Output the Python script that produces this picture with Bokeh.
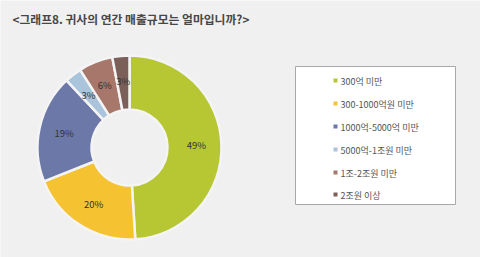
import math
from bokeh.plotting import figure
from bokeh.models import Range1d, ColumnDataSource
from bokeh.core.properties import value
from bokeh.embed import file_html
from bokeh.resources import INLINE

title = "<그래프8. 귀사의 연간 매출규모는 얼마입니까?>"
categories = ["300억 미만", "300-1000억원 미만", "1000억-5000억 미만",
              "5000억-1조원 미만", "1조-2조원 미만", "2조원 이상"]
shares = [49, 20, 19, 3, 6, 3]
colors = ["#B6C733", "#F5C232", "#6C79A8", "#A9C4DB", "#A6776A", "#7B605A"]

W, H = 480, 257
def Y(ys):
    return H - ys

p = figure(width=W, height=H, x_range=Range1d(0, W), y_range=Range1d(0, H),
           output_backend="svg", toolbar_location=None,
           x_axis_location=None, y_axis_location=None, min_border=0)
p.grid.visible = False
p.outline_line_color = None
p.background_fill_color = "#F0F0F0"
p.border_fill_color = "#F0F0F0"

# title
p.text(x=[12], y=[Y(18)], text=[title], text_font=value("Noto Sans CJK KR"),
       text_font_size="11.8px", text_font_style="bold", text_color="#474747",
       text_baseline="middle", text_align="left")

# donut
cx, cy = 129, Y(147)
r_in, r_out = 38, 92
total = sum(shares)
starts, ends, lx, ly, labels = [], [], [], [], []
cum = 0
for s in shares:
    a0 = math.pi / 2 - 2 * math.pi * cum / total
    cum += s
    a1 = math.pi / 2 - 2 * math.pi * cum / total
    starts.append(a0)
    ends.append(a1)
    mid = (a0 + a1) / 2
    rr = (r_in + r_out) / 2 + 2
    lx.append(cx + rr * math.cos(mid))
    ly.append(cy + rr * math.sin(mid))
    labels.append(f"{s}%")

src = ColumnDataSource(dict(start=starts, end=ends, color=colors))
p.annular_wedge(x=cx, y=cy, inner_radius=r_in, outer_radius=r_out,
                start_angle="start", end_angle="end", direction="clock",
                fill_color="color", line_color="#F4F4F4", line_width=2.5,
                source=src)
p.text(x=lx, y=ly, text=labels, text_font=value("Noto Sans CJK KR"),
       text_font_size="9.5px", text_color="#333333", text_align="center",
       text_baseline="middle")

# legend box
bx0, bx1, by0, by1 = 295, 455, 66, 204
p.quad(left=[bx0], right=[bx1], top=[Y(by0)], bottom=[Y(by1)],
       fill_color="white", line_color="#A8A8A8", line_width=1)
rows = [80, 103, 126, 149, 172, 194]
p.scatter(x=[335] * len(categories), y=[Y(r) for r in rows], marker="square",
          size=4, fill_color=colors, line_color=None)
p.text(x=[340] * len(categories), y=[Y(r + 1) for r in rows], text=categories,
       text_font=value("Noto Sans CJK KR"), text_font_size="9px",
       text_color="#555555", text_align="left", text_baseline="middle")

open("out.html", "w").write(file_html(p, INLINE))
